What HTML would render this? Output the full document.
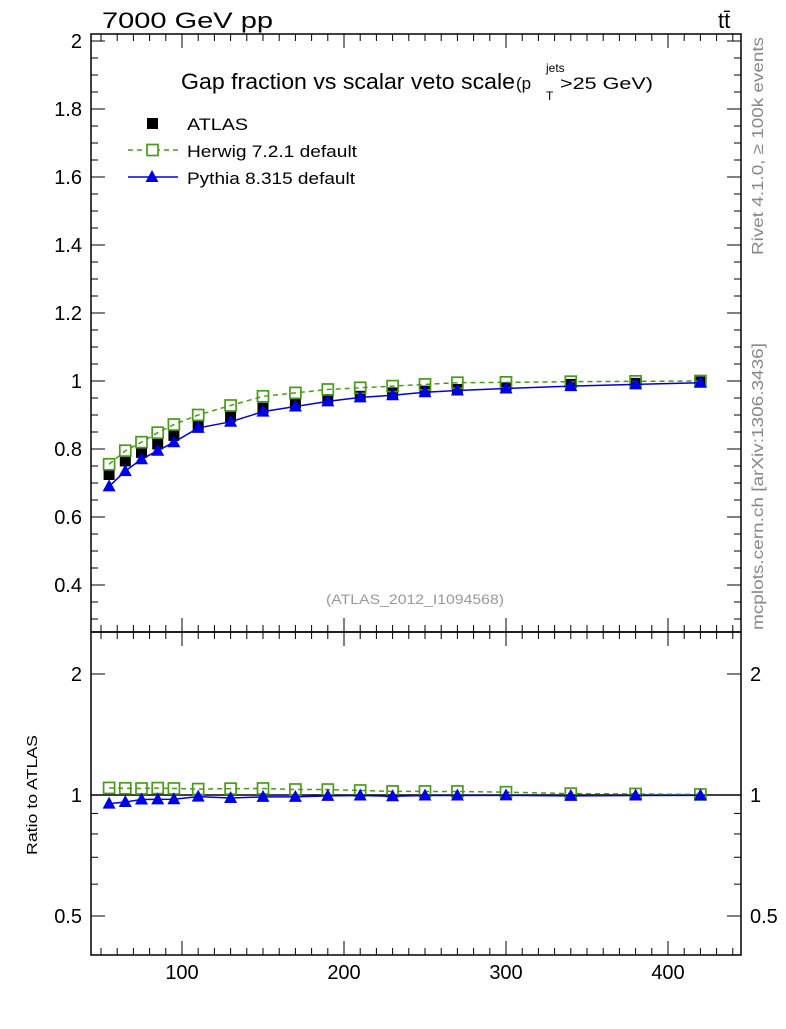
<!DOCTYPE html>
<html><head><meta charset="utf-8"><style>
body{margin:0;background:#fff}
svg text{font-family:"Liberation Sans",sans-serif}
</style></head><body>
<svg id="s" width="786" height="1024" xmlns="http://www.w3.org/2000/svg"></svg>
<script>
const s=document.getElementById('s');let h='';
const X0=91,X1=741,MT=34,MB=632,RB=955;
const xp=v=>182+(v-100)*1.62;
const yp=v=>381-(v-1)*340;
const yr=r=>795-121*Math.log2(r);
const LA='lengthAdjust="spacingAndGlyphs"';
h+=`<rect x="${X0}" y="${MT}" width="${X1-X0}" height="${MB-MT}" fill="none" stroke="#000" stroke-width="1.5"/>`;
h+=`<rect x="${X0}" y="${MB}" width="${X1-X0}" height="${RB-MB}" fill="none" stroke="#000" stroke-width="1.5"/>`;
for(let v=50;v<=440;v+=10){const x=xp(v);const maj=v%100==0;const L=maj?14:7;
 [MB,RB].forEach(y=>{h+=`<line x1="${x}" y1="${y}" x2="${x}" y2="${y-L}" stroke="#000"/>`;});
 [MT,MB].forEach(y=>{h+=`<line x1="${x}" y1="${y}" x2="${x}" y2="${y+L}" stroke="#000"/>`;});
 if(maj&&v<=400)h+=`<text x="${x}" y="979" font-size="20" text-anchor="middle">${v}</text>`;}
for(let i=6;i<=40;i++){const v=i*0.05;const y=yp(v);if(y<MT||y>MB)continue;const maj=(i%4==0);const L=maj?14:7;
 h+=`<line x1="${X0}" y1="${y}" x2="${X0+L}" y2="${y}" stroke="#000"/><line x1="${X1}" y1="${y}" x2="${X1-L}" y2="${y}" stroke="#000"/>`;
 if(maj)h+=`<text x="82" y="${y+7}" font-size="20" text-anchor="end">${+v.toFixed(1)}</text>`;}
const rt=[0.4,0.5,0.6,0.7,0.8,0.9,1,2];
rt.forEach(r=>{const y=yr(r);const maj=(r==0.5||r==1||r==2);const L=maj?14:7;
 h+=`<line x1="${X0}" y1="${y}" x2="${X0+L}" y2="${y}" stroke="#000"/><line x1="${X1}" y1="${y}" x2="${X1-L}" y2="${y}" stroke="#000"/>`;
 if(maj){h+=`<text x="82" y="${y+7}" font-size="20" text-anchor="end">${r}</text><text x="750" y="${y+7}" font-size="20">${r}</text>`;}});
h+=`<line x1="${X0}" y1="795" x2="${X1}" y2="795" stroke="#000" stroke-width="1.5"/>`;
const xs=[55,65,75,85,95,110,130,150,170,190,210,230,250,270,300,340,380,420];
const A=[0.725,0.765,0.79,0.815,0.84,0.87,0.895,0.92,0.935,0.945,0.955,0.965,0.97,0.975,0.98,0.99,0.993,0.997];
const H=[0.755,0.795,0.82,0.848,0.872,0.9,0.928,0.955,0.965,0.975,0.98,0.985,0.99,0.995,0.996,0.998,0.999,1.0];
const P=[0.69,0.735,0.77,0.795,0.82,0.862,0.88,0.91,0.925,0.94,0.952,0.958,0.967,0.972,0.978,0.985,0.99,0.995];
A.forEach((a,i)=>{h+=`<rect x="${xp(xs[i])-5.5}" y="${yp(a)-5.5}" width="11" height="11" fill="#000"/>`;});
function series(D,col,dash,mark,f){let pts=D.map((d,i)=>`${xp(xs[i])},${f(d,i)}`).join(' ');
 h+=`<polyline points="${pts}" fill="none" stroke="${col}" stroke-width="1.5" ${dash?'stroke-dasharray="5,4"':''}/>`;
 D.forEach((d,i)=>{const x=xp(xs[i]),y=f(d,i);
  if(mark=='sq')h+=`<rect x="${x-5.5}" y="${y-5.5}" width="11" height="11" fill="none" stroke="${col}" stroke-width="1.7"/>`;
  else h+=`<polygon points="${x},${y-7} ${x-6.5},${y+5} ${x+6.5},${y+5}" fill="${col}"/>`;});}
series(H,'#4a9a1a',1,'sq',d=>yp(d));
series(P,'#0000e6',0,'tr',d=>yp(d));
series(H,'#4a9a1a',1,'sq',(d,i)=>yr(d/A[i]));
series(P,'#0000e6',0,'tr',(d,i)=>yr(d/A[i]));
h+=`<text x="102" y="28" font-size="22" textLength="171" ${LA}>7000 GeV pp</text>`;
h+=`<text x="718" y="28" font-size="22">tt̄</text>`;
h+=`<text x="181" y="89" font-size="22" textLength="334" ${LA}>Gap fraction vs scalar veto scale</text>`;
h+=`<text x="516" y="89" font-size="17">(p</text><text x="546" y="72" font-size="12">jets</text><text x="546" y="100" font-size="12">T</text><text x="560" y="89" font-size="17" textLength="93" ${LA}>&gt;25 GeV)</text>`;
h+=`<rect x="147" y="118" width="11" height="11" fill="#000"/><text x="187" y="130" font-size="17" textLength="61" ${LA}>ATLAS</text>`;
h+=`<line x1="128" y1="150" x2="178" y2="150" stroke="#4a9a1a" stroke-width="1.5" stroke-dasharray="5,4"/><rect x="147" y="144.5" width="11" height="11" fill="#fff" stroke="#4a9a1a" stroke-width="1.7"/><text x="187" y="157" font-size="17" textLength="170" ${LA}>Herwig 7.2.1 default</text>`;
h+=`<line x1="128" y1="177" x2="178" y2="177" stroke="#0000e6" stroke-width="1.5"/><polygon points="152,170 145.5,182 158.5,182" fill="#0000e6"/><text x="187" y="184" font-size="17" textLength="168" ${LA}>Pythia 8.315 default</text>`;
h+=`<text x="326" y="604" font-size="14" fill="#999" textLength="178" ${LA}>(ATLAS_2012_I1094568)</text>`;
h+=`<text transform="translate(763,255) rotate(-90)" font-size="16" fill="#888" textLength="218" ${LA}>Rivet 4.1.0, ≥ 100k events</text>`;
h+=`<text transform="translate(763,630) rotate(-90)" font-size="16" fill="#888" textLength="287" ${LA}>mcplots.cern.ch [arXiv:1306.3436]</text>`;
h+=`<text transform="translate(37,855) rotate(-90)" font-size="15" textLength="120" ${LA}>Ratio to ATLAS</text>`;
s.innerHTML=h;
</script>
</body></html>
